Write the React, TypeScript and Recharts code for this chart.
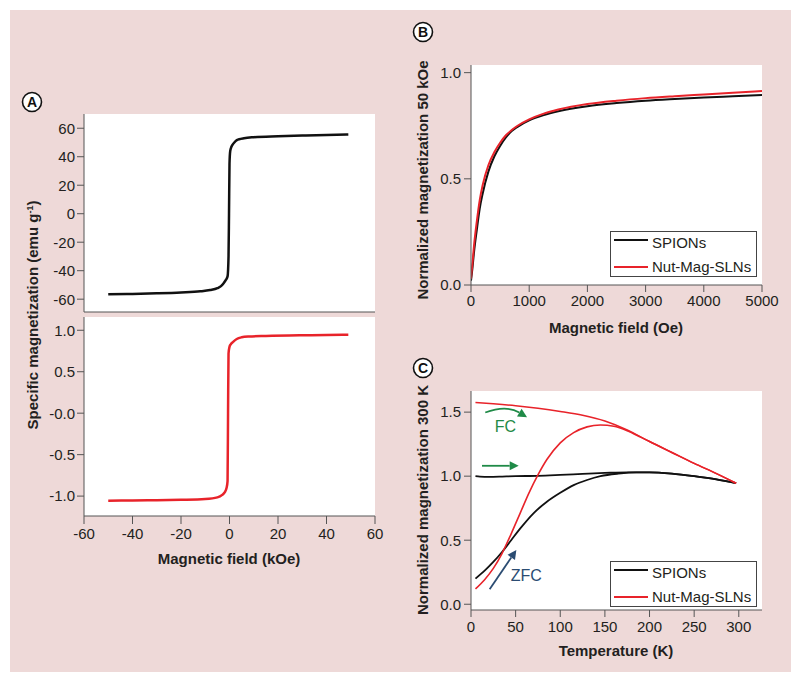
import React from 'react'
import { CartesianGrid, Line, LineChart, ReferenceDot, ReferenceLine, XAxis, YAxis } from 'recharts'

const PINK = '#eed9d8'
const RED = '#e8232a'
const BLACK = '#111111'
const AXIS = '#555555'
const TEXT = '#231f20'
const GREEN = '#1f8a47'
const NAVY = '#2b4c72'

// A: hysteresis loops (kOe)
const aFieldSpions = [-50, -40, -30, -20, -12, -8, -5, -3.5, -2.5, -1.5, -0.8, -0.4, -0.2, 0, 0.3, 0.8, 1.5, 2.5, 4, 6, 10, 20, 30, 40, 49]
const aMagSpions = [-56.6, -56.3, -55.9, -55.3, -54.5, -53.6, -52.3, -50.8, -49, -46.5, -44, -30, 0, 35, 44, 47, 49, 51, 52.3, 53, 53.7, 54.4, 54.9, 55.3, 55.6]
const aFieldSln = [-50, -40, -30, -20, -10, -5, -3, -2, -1.2, -0.8, -0.6, -0.4, 0, 0.5, 1.5, 3, 5, 8, 15, 30, 40, 49]
const aMagSln = [-1.055, -1.053, -1.05, -1.045, -1.035, -1.015, -0.985, -0.955, -0.9, -0.82, 0, 0.72, 0.8, 0.83, 0.86, 0.895, 0.915, 0.925, 0.932, 0.94, 0.943, 0.945]
const aFieldTicks = [-60, -40, -20, 0, 20, 40, 60]
const aTopTicks = [-60, -40, -20, 0, 20, 40, 60]
const aBottomTicks = [-1, -0.5, 0, 0.5, 1]

// B: low-field magnetization (Oe)
const bField = [0, 25, 50, 100, 150, 200, 300, 400, 500, 600, 700, 800, 1000, 1250, 1500, 2000, 2500, 3000, 3500, 4000, 4500, 5000]
const bSpions = [0.02, 0.08, 0.15, 0.26, 0.36, 0.43, 0.535, 0.605, 0.655, 0.695, 0.725, 0.745, 0.775, 0.8, 0.818, 0.842, 0.857, 0.868, 0.876, 0.883, 0.889, 0.895]
const bSln = [0.03, 0.1, 0.18, 0.3, 0.4, 0.47, 0.565, 0.625, 0.67, 0.705, 0.73, 0.75, 0.78, 0.807, 0.826, 0.852, 0.868, 0.88, 0.889, 0.897, 0.905, 0.913]
const bFieldTicks = [0, 1000, 2000, 3000, 4000, 5000]
const bMagTicks = [0, 0.5, 1]

// C: ZFC / FC curves (K)
const cTempZfcSpions = [5, 15, 25, 35, 45, 55, 70, 85, 100, 115, 130, 145, 165, 185, 200, 225, 250, 275, 297]
const cZfcSpions = [0.2, 0.26, 0.33, 0.41, 0.5, 0.59, 0.71, 0.8, 0.87, 0.93, 0.97, 1.0, 1.02, 1.03, 1.03, 1.02, 1.0, 0.975, 0.945]
const cTempFcSpions = [5, 10, 20, 35, 50, 75, 100, 125, 150, 175, 200, 225, 250, 275, 297]
const cFcSpions = [1.0, 0.997, 0.995, 0.997, 1.0, 1.003, 1.01, 1.018, 1.025, 1.03, 1.03, 1.02, 1.0, 0.975, 0.945]
const cTempZfcSln = [5, 15, 25, 35, 45, 55, 65, 75, 85, 100, 115, 130, 145, 160, 175, 190, 200, 225, 250, 275, 297]
const cZfcSln = [0.12, 0.19, 0.28, 0.4, 0.55, 0.71, 0.87, 1.01, 1.13, 1.26, 1.34, 1.385, 1.4, 1.39, 1.355, 1.305, 1.27, 1.185, 1.1, 1.02, 0.945]
const cTempFcSln = [5, 25, 50, 75, 100, 125, 150, 175, 200, 225, 250, 275, 297]
const cFcSln = [1.575, 1.565, 1.55, 1.53, 1.505, 1.475, 1.43, 1.36, 1.27, 1.185, 1.1, 1.02, 0.945]
const cTempTicks = [0, 50, 100, 150, 200, 250, 300]
const cMagTicks = [0, 0.5, 1, 1.5]

const toPoints = (xs: number[], ys: number[]) => xs.map((x, i) => ({ x, y: ys[i] }))
const bData = bField.map((f, i) => ({ x: f, spions: bSpions[i], sln: bSln[i] }))

const tickStyle = { fill: TEXT, fontSize: 15 }
const fmt1 = (v: number) => (v === 0 ? '0.0' : v.toFixed(1))

const arrow = (color: string, bend: number) => (props: any) => {
  const { x1, y1, x2, y2 } = props
  const mx = (x1 + x2) / 2
  const my = (y1 + y2) / 2 - bend
  const sx = bend ? mx : x1
  const sy = bend ? my : y1
  const len = Math.hypot(x2 - sx, y2 - sy) || 1
  const ux = (x2 - sx) / len
  const uy = (y2 - sy) / len
  const bx = x2 - ux * 9
  const by = y2 - uy * 9
  const d = bend ? `M${x1},${y1} Q${mx},${my} ${bx},${by}` : `M${x1},${y1} L${bx},${by}`
  const head = `${x2},${y2} ${bx - uy * 4.5},${by + ux * 4.5} ${bx + uy * 4.5},${by - ux * 4.5}`
  return (
    <g>
      <path d={d} stroke={color} strokeWidth={1.8} fill="none" />
      <polygon points={head} fill={color} />
    </g>
  )
}

const Legend = ({ top }: { top: number }) => (
  <g>
    <rect x={610.5} y={top + 0.5} width={146} height={45} fill="#fff" stroke="#444" strokeWidth={1} />
    <line x1={614} x2={648} y1={top + 9} y2={top + 9} stroke={BLACK} strokeWidth={2} />
    <text x={652} y={top + 16.5} fontSize={15} fill={TEXT}>SPIONs</text>
    <line x1={614} x2={648} y1={top + 36} y2={top + 36} stroke={RED} strokeWidth={2} />
    <text x={652} y={top + 40.5} fontSize={15} fill={TEXT}>Nut-Mag-SLNs</text>
  </g>
)

const Badge = ({ x, y, letter }: { x: number; y: number; letter: string }) => (
  <g>
    <circle cx={x} cy={y} r={9.5} fill="#fff" stroke={BLACK} strokeWidth={1.6} />
    <text x={x} y={y + 5} textAnchor="middle" fontSize={14} fontWeight="bold" fill={BLACK}>{letter}</text>
  </g>
)

export default function App() {
  return (
    <div style={{ position: 'absolute', left: 0, top: 0, width: 800, height: 681, background: '#fff', fontFamily: "'Liberation Sans', Arial, Helvetica, sans-serif" }}>
      <div style={{ position: 'absolute', left: 10, top: 10, width: 781, height: 662, background: PINK }} />

      {/* A top */}
      <div style={{ position: 'absolute', left: 0, top: 100 }}>
        <LineChart width={400} height={213} margin={{ top: 14, right: 25, bottom: 0, left: 0 }}>
          <CartesianGrid fill="#fff" stroke="none" horizontal={false} vertical={false} />
          <XAxis type="number" dataKey="x" domain={[-60, 60]} allowDataOverflow height={1} tick={false} tickLine={false} axisLine={{ stroke: AXIS }} />
          <YAxis type="number" domain={[-69, 70]} allowDataOverflow ticks={aTopTicks} interval={0} width={84} tick={tickStyle} tickSize={7} tickMargin={2} axisLine={{ stroke: AXIS }} tickLine={{ stroke: AXIS }} />
          <Line data={toPoints(aFieldSpions, aMagSpions)} dataKey="y" type="monotone" stroke={BLACK} strokeWidth={2.5} dot={false} isAnimationActive={false} />
        </LineChart>
      </div>

      {/* A bottom */}
      <div style={{ position: 'absolute', left: 0, top: 305 }}>
        <LineChart width={400} height={241} margin={{ top: 12, right: 25, bottom: 0, left: 0 }}>
          <CartesianGrid fill="#fff" stroke="none" horizontal={false} vertical={false} />
          <XAxis type="number" dataKey="x" domain={[-60, 60]} allowDataOverflow ticks={aFieldTicks} interval={0} height={30} tick={tickStyle} tickSize={8} tickMargin={4} axisLine={{ stroke: AXIS }} tickLine={{ stroke: AXIS }} />
          <YAxis type="number" domain={[-1.24, 1.16]} allowDataOverflow ticks={aBottomTicks} interval={0} width={84} tick={tickStyle} tickSize={7} tickMargin={2} tickFormatter={(v: number) => (v === 0 ? '-0.0' : v.toFixed(1))} axisLine={{ stroke: AXIS }} tickLine={{ stroke: AXIS }} />
          <Line data={toPoints(aFieldSln, aMagSln)} dataKey="y" type="monotone" stroke={RED} strokeWidth={2.5} dot={false} isAnimationActive={false} />
        </LineChart>
      </div>

      {/* B */}
      <div style={{ position: 'absolute', left: 400, top: 50 }}>
        <LineChart width={395} height={265} data={bData} margin={{ top: 15, right: 33, bottom: 0, left: 0 }}>
          <CartesianGrid fill="#fff" stroke="none" horizontal={false} vertical={false} />
          <XAxis type="number" dataKey="x" domain={[0, 5000]} allowDataOverflow ticks={bFieldTicks} interval={0} height={30} tick={tickStyle} tickSize={7} tickMargin={3} axisLine={{ stroke: AXIS }} tickLine={{ stroke: AXIS }} />
          <YAxis type="number" domain={[0, 1.036]} allowDataOverflow ticks={bMagTicks} interval={0} width={71} tick={tickStyle} tickSize={7} tickMargin={3} tickFormatter={fmt1} axisLine={{ stroke: AXIS }} tickLine={{ stroke: AXIS }} />
          <Line dataKey="spions" type="monotone" stroke={BLACK} strokeWidth={2} dot={false} isAnimationActive={false} />
          <Line dataKey="sln" type="monotone" stroke={RED} strokeWidth={2} dot={false} isAnimationActive={false} />
        </LineChart>
      </div>

      {/* C */}
      <div style={{ position: 'absolute', left: 400, top: 380 }}>
        <LineChart width={395} height={260} margin={{ top: 11, right: 33, bottom: 0, left: 0 }}>
          <CartesianGrid fill="#fff" stroke="none" horizontal={false} vertical={false} />
          <XAxis type="number" dataKey="x" domain={[0, 326]} allowDataOverflow ticks={cTempTicks} interval={0} height={30} tick={tickStyle} tickSize={7} tickMargin={4} axisLine={{ stroke: AXIS }} tickLine={{ stroke: AXIS }} />
          <YAxis type="number" domain={[-0.045, 1.665]} allowDataOverflow ticks={cMagTicks} interval={0} width={71} tick={tickStyle} tickSize={7} tickMargin={3} tickFormatter={fmt1} axisLine={{ stroke: AXIS }} tickLine={{ stroke: AXIS }} />
          <Line data={toPoints(cTempFcSpions, cFcSpions)} dataKey="y" type="monotone" stroke={BLACK} strokeWidth={1.8} dot={false} isAnimationActive={false} />
          <Line data={toPoints(cTempZfcSpions, cZfcSpions)} dataKey="y" type="monotone" stroke={BLACK} strokeWidth={1.8} dot={false} isAnimationActive={false} />
          <Line data={toPoints(cTempFcSln, cFcSln)} dataKey="y" type="monotone" stroke={RED} strokeWidth={1.6} dot={false} isAnimationActive={false} />
          <Line data={toPoints(cTempZfcSln, cZfcSln)} dataKey="y" type="monotone" stroke={RED} strokeWidth={1.6} dot={false} isAnimationActive={false} />
          <ReferenceLine segment={[{ x: 16, y: 1.497 }, { x: 62.8, y: 1.461 }]} ifOverflow="visible" shape={arrow(GREEN, 10)} />
          <ReferenceLine segment={[{ x: 12.3, y: 1.081 }, { x: 53.4, y: 1.081 }]} ifOverflow="visible" shape={arrow(GREEN, 0)} />
          <ReferenceLine segment={[{ x: 20.9, y: 0.117 }, { x: 50.8, y: 0.424 }]} ifOverflow="visible" shape={arrow(NAVY, 0)} />
          <ReferenceDot x={38.5} y={1.393} r={0} fill="none" stroke="none" label={{ value: 'FC', fill: GREEN, fontSize: 16, position: 'center' }} />
          <ReferenceDot x={62} y={0.224} r={0} fill="none" stroke="none" label={{ value: 'ZFC', fill: NAVY, fontSize: 16, position: 'center' }} />
        </LineChart>
      </div>

      <svg width={800} height={681} style={{ position: 'absolute', left: 0, top: 0, pointerEvents: 'none' }}>
        <Badge x={32} y={102} letter="A" />
        <Badge x={423} y={32} letter="B" />
        <Badge x={423} y={368} letter="C" />

        <text transform="translate(38,315) rotate(-90)" textAnchor="middle" fontSize={15} fontWeight="bold" fill={TEXT}>
          Specific magnetization (emu g<tspan fontSize={9} dy={-5}>-1</tspan><tspan dy={5}>)</tspan>
        </text>
        <text x={229} y={564} textAnchor="middle" fontSize={15} fontWeight="bold" fill={TEXT}>Magnetic field (kOe)</text>

        <text transform="translate(428,180) rotate(-90)" textAnchor="middle" fontSize={15} fontWeight="bold" fill={TEXT}>Normalized magnetization 50 kOe</text>
        <text x={616} y={333} textAnchor="middle" fontSize={15} fontWeight="bold" fill={TEXT}>Magnetic field (Oe)</text>
        <Legend top={231} />

        <text transform="translate(428,500) rotate(-90)" textAnchor="middle" fontSize={15} fontWeight="bold" fill={TEXT}>Normalized magnetization 300 K</text>
        <text x={616} y={655.5} textAnchor="middle" fontSize={15} fontWeight="bold" fill={TEXT}>Temperature (K)</text>
        <Legend top={561} />
      </svg>
    </div>
  )
}
